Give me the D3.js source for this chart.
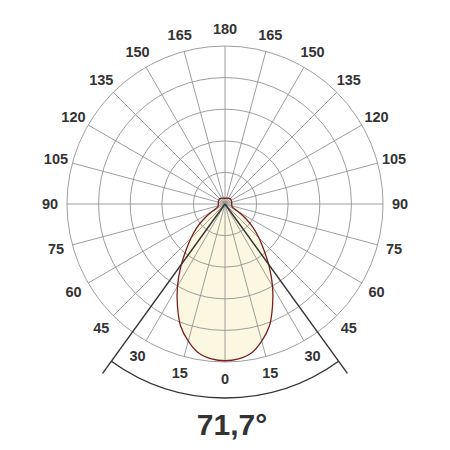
<!DOCTYPE html>
<html><head><meta charset="utf-8">
<script src="https://cdn.jsdelivr.net/npm/d3@7"></script>
<style>body{margin:0;background:#fff}</style>
</head><body>
<svg id="c" width="450" height="450"></svg>
<script>
// gamma angles (deg) and intensity values (relative units, outer ring = 500)
const gammaAngles = [0,5,10,15,20,25,30,35,40,45,50,55,60,65,70,75,80,85,90,105,120,135,150,165,180];
const intensity   = [496,492,479,449,411,356,301,245,193,152,117,80,46,29,24,22,22,21,21,22,23,24,21,19,18];
const ringValues = [100,200,300,400,500];
const tickAngles = [0,15,30,45,60,75,90,105,120,135,150,165,180];
const beamAngle = 71.7;
const beamLabel = "71,7°";

const svg = d3.select("#c");
const cx = 225, cy = 204;
const r = d3.scaleLinear().domain([0,500]).range([0,158]);
const toRad = d => d*Math.PI/180;
const pt = (g, rr) => [cx + rr*Math.sin(toRad(g)), cy + rr*Math.cos(toRad(g))];

const g = svg.append("g");

const pts = [];
gammaAngles.forEach((a,i)=>pts.push(pt(a, r(intensity[i]))));
for (let i=gammaAngles.length-2;i>0;i--) pts.push(pt(-gammaAngles[i], r(intensity[i])));
const line = d3.line().curve(d3.curveCatmullRomClosed.alpha(0.5));

g.append("path").attr("d", line(pts)).attr("fill","#fcf7e0").attr("stroke","none");

g.selectAll("circle.ring").data(ringValues).enter().append("circle")
  .attr("cx",cx).attr("cy",cy).attr("r",d=>r(d))
  .attr("fill","none").attr("stroke","#939393").attr("stroke-width",0.9);

const spokes = d3.range(0,360,15);
g.selectAll("line.spoke").data(spokes).enter().append("line")
  .attr("x1",cx).attr("y1",cy)
  .attr("x2",d=>pt(d, r(500))[0]).attr("y2",d=>pt(d, r(500))[1])
  .attr("stroke","#939393").attr("stroke-width",0.9);

g.append("path").attr("d", line(pts)).attr("fill","none").attr("stroke","#7a2020").attr("stroke-width",1.3);

const half = beamAngle/2;
[-half, half].forEach(a=>{
  const e = pt(a, 209);
  g.append("line").attr("x1",cx).attr("y1",cy).attr("x2",e[0]).attr("y2",e[1])
    .attr("stroke","#333").attr("stroke-width",1.4);
});
const arc = d3.arc().innerRadius(194).outerRadius(194)
  .startAngle(toRad(180-half)).endAngle(toRad(180+half));
g.append("path").attr("d",arc()).attr("transform",`translate(${cx},${cy})`)
  .attr("fill","none").attr("stroke","#333").attr("stroke-width",1.4);

const labels = [];
tickAngles.forEach(a=>{
  labels.push({a:a, t:String(a)});
  if (a>0 && a<180) labels.push({a:-a, t:String(a)});
});
g.selectAll("text.tick").data(labels).enter().append("text")
  .attr("x",d=>pt(d.a,175)[0]).attr("y",d=>pt(d.a,175)[1])
  .attr("text-anchor","middle").attr("dominant-baseline","central")
  .attr("font-family","Liberation Sans, Arial, sans-serif").attr("font-weight","bold")
  .attr("font-size",14.5).attr("fill","#333").text(d=>d.t);

g.append("text").attr("x",232).attr("y",435).attr("text-anchor","middle")
  .attr("font-family","Liberation Sans, Arial, sans-serif").attr("font-weight","bold")
  .attr("font-size",30).attr("fill","#333").text(beamLabel);
</script>
</body></html>
